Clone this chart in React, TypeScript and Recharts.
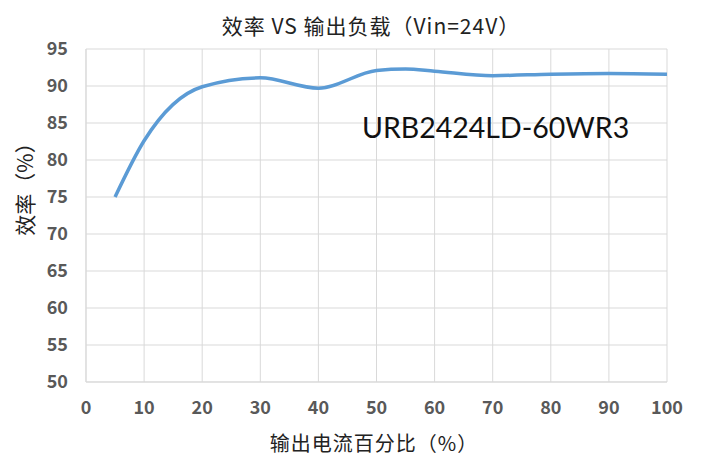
import { CartesianGrid, Line, LineChart, XAxis, YAxis } from "recharts";

const loadPct = [5, 10, 20, 30, 40, 50, 55, 60, 70, 80, 90, 100];
const efficiency = [75, 82.6, 89.9, 91.1, 89.7, 92.1, 92.3, 92.0, 91.4, 91.6, 91.7, 91.6];
const xTicks = [0, 10, 20, 30, 40, 50, 60, 70, 80, 90, 100];
const yTicks = [50, 55, 60, 65, 70, 75, 80, 85, 90, 95];

const data = loadPct.map((x, i) => ({ x, eff: efficiency[i] }));

const cjk = "'Noto Sans CJK SC', sans-serif";
const tickStyle = { fill: "#595959", fontSize: 18, fontWeight: 700, fontFamily: cjk };

export default function App() {
  return (
    <div style={{ position: "absolute", left: 0, top: 0, width: 701, height: 459, background: "#fff", overflow: "hidden" }}>
      <LineChart width={701} height={459} data={data} margin={{ top: 49, right: 34, bottom: 47, left: 0 }}>
        <CartesianGrid stroke="#d9d9d9" />
        <XAxis
          dataKey="x"
          type="number"
          domain={[0, 100]}
          ticks={xTicks}
          height={30}
          tickLine={false}
          tickMargin={13}
          axisLine={{ stroke: "#d9d9d9" }}
          tick={tickStyle}
        />
        <YAxis
          type="number"
          domain={[50, 95]}
          ticks={yTicks}
          width={86}
          tickLine={false}
          tickMargin={12}
          axisLine={{ stroke: "#d9d9d9" }}
          tick={tickStyle}
        />
        <Line
          dataKey="eff"
          type="monotone"
          stroke="#5b9bd5"
          strokeWidth={3.5}
          dot={false}
          isAnimationActive={false}
        />
      </LineChart>
      <div style={{ position: "absolute", left: 0, width: 742, top: 12, lineHeight: "26px", textAlign: "center", fontFamily: cjk, fontSize: 21, letterSpacing: 1, color: "#222" }}>
        效率 VS 输出负载（Vin=24V）
      </div>
      <div style={{ position: "absolute", left: 0, width: 748, top: 431, lineHeight: "24px", textAlign: "center", fontFamily: cjk, fontSize: 20, letterSpacing: 1, color: "#222" }}>
        输出电流百分比（%）
      </div>
      <div
        style={{
          position: "absolute",
          left: 24,
          top: 184,
          transform: "translate(-50%, -50%) rotate(-90deg)",
          whiteSpace: "nowrap",
          fontFamily: cjk,
          fontSize: 21,
          color: "#222",
        }}
      >
        效率（%）
      </div>
      <div style={{ position: "absolute", left: 362, top: 110, fontFamily: "Lato, sans-serif", fontSize: 28.5, color: "#111" }}>
        URB2424LD-60WR3
      </div>
    </div>
  );
}
